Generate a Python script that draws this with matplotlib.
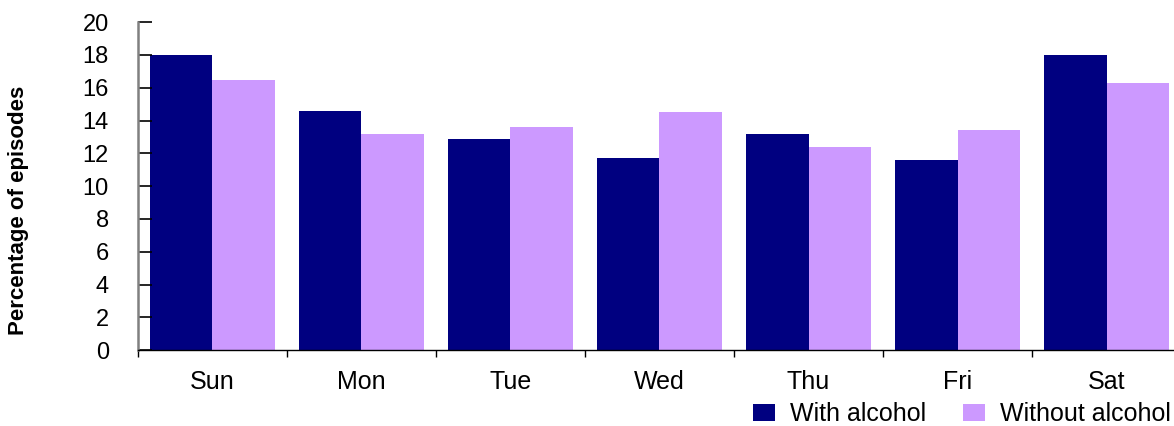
import matplotlib.pyplot as plt
import numpy as np

days = ['Sun', 'Mon', 'Tue', 'Wed', 'Thu', 'Fri', 'Sat']
with_alcohol = [18.0, 14.6, 12.9, 11.7, 13.2, 11.6, 18.0]
without_alcohol = [16.5, 13.2, 13.6, 14.5, 12.4, 13.4, 16.3]
y_ticks = [0, 2, 4, 6, 8, 10, 12, 14, 16, 18, 20]

dark = '#000080'
light = '#CC99FF'
font = 'Liberation Sans'

plt.rcParams['font.family'] = [font, 'DejaVu Sans']

fig = plt.figure(figsize=(11.74, 4.26), dpi=100)
ax = fig.add_axes([0.1175, 0.178, 0.8885, 0.770])

x = np.arange(len(days))
width = 0.417
ax.bar(x - width / 2, with_alcohol, width, color=dark, label='With alcohol')
ax.bar(x + width / 2, without_alcohol, width, color=light, label='Without alcohol')

ax.set_xlim(-0.5, len(days) - 0.5)
ax.set_ylim(0, 20)
ax.set_yticks(y_ticks)
ax.tick_params(axis='y', direction='in', length=10, width=1.2, pad=21,
               labelsize=17)

# category boundaries as major ticks, names on minor ticks
ax.set_xticks(np.arange(-0.5, len(days), 1.0))
ax.set_xticklabels([])
ax.set_xticks(x, minor=True)
ax.set_xticklabels(days, minor=True, fontsize=18)
ax.tick_params(axis='x', which='major', direction='out', length=5, width=1)
ax.tick_params(axis='x', which='minor', length=0, pad=14)

ax.spines['top'].set_visible(False)
ax.spines['right'].set_visible(False)
ax.spines['left'].set_color('#808080')
ax.spines['left'].set_linewidth(1.8)
ax.spines['bottom'].set_color('black')
ax.spines['bottom'].set_linewidth(1)

fig.text(0.016, 0.505, 'Percentage of episodes', rotation=90, ha='center',
         va='center', fontsize=16, fontweight='bold')

fig.legend(loc='center right', bbox_to_anchor=(0.997, 0.027), ncol=2,
           frameon=False, fontsize=18, handlelength=0.85, handleheight=0.7,
           handletextpad=0.6, columnspacing=1.5, borderaxespad=0,
           borderpad=0)

fig.savefig('out.png', dpi=100)
